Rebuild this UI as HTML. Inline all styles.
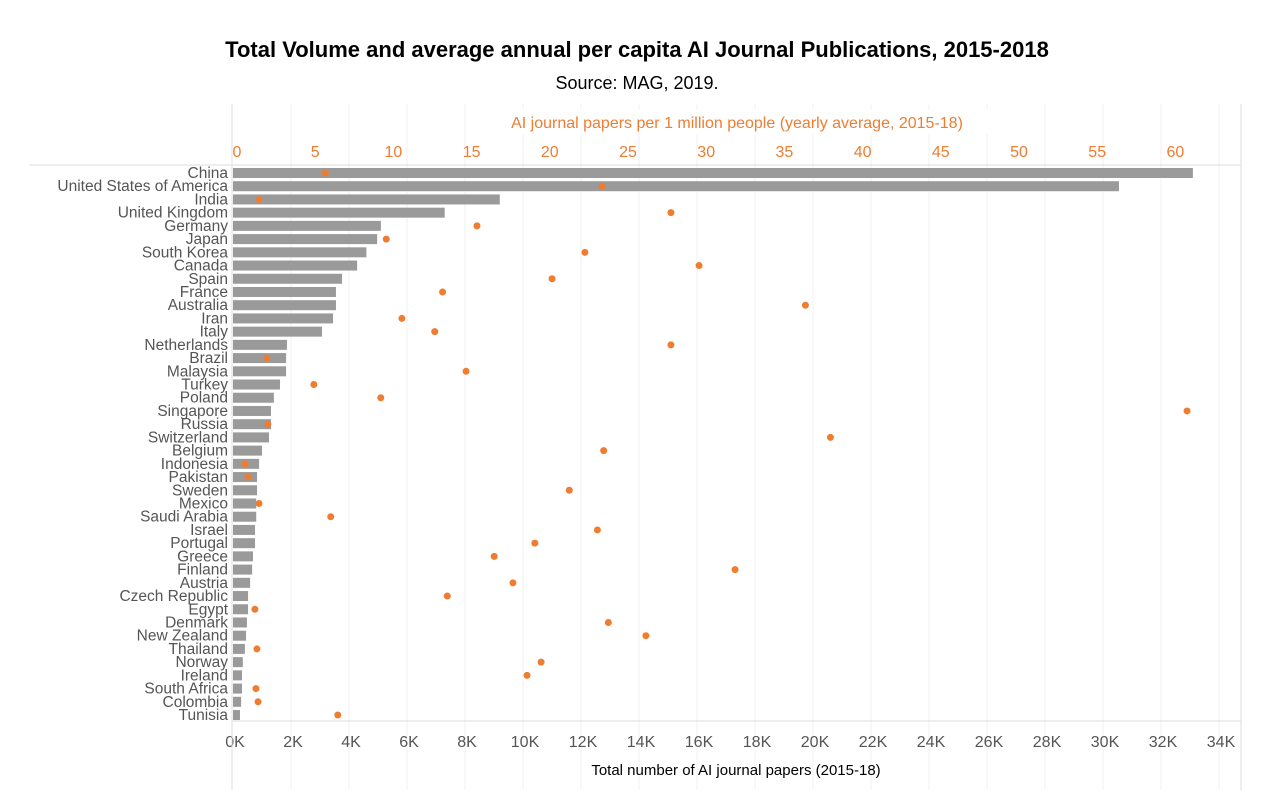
<!DOCTYPE html>
<html><head><meta charset="utf-8">
<style>
html,body{margin:0;padding:0;background:#fff;}
svg{display:block;font-family:"Liberation Sans",sans-serif;}
</style></head>
<body>
<svg id="chart" width="1280" height="801" viewBox="0 0 1280 801">
<g id="grid"></g>
<text x="637" y="57" text-anchor="middle" font-size="22" font-weight="bold" fill="#000">Total Volume and average annual per capita AI Journal Publications, 2015-2018</text>
<text x="637" y="89" text-anchor="middle" font-size="18" fill="#000">Source: MAG, 2019.</text>
<rect x="480" y="110" width="515" height="24" fill="#fff"/>
<text x="737" y="128" text-anchor="middle" font-size="16" fill="#ee7d31">AI journal papers per 1 million people (yearly average, 2015-18)</text>
<text x="736" y="775" text-anchor="middle" font-size="15" fill="#000">Total number of AI journal papers (2015-18)</text>
<g id="ticks"></g>
<line x1="30" y1="165" x2="1241" y2="165" stroke="#ddd"/>
<line x1="232" y1="721" x2="1241" y2="721" stroke="#ddd"/>
<line x1="232" y1="104" x2="232" y2="790" stroke="#ddd"/>
<line x1="1241" y1="104" x2="1241" y2="790" stroke="#ddd"/>
<g id="marks"></g>
</svg>
<script>
const countries=["China","United States of America","India","United Kingdom","Germany","Japan","South Korea","Canada","Spain","France","Australia","Iran","Italy","Netherlands","Brazil","Malaysia","Turkey","Poland","Singapore","Russia","Switzerland","Belgium","Indonesia","Pakistan","Sweden","Mexico","Saudi Arabia","Israel","Portugal","Greece","Finland","Austria","Czech Republic","Egypt","Denmark","New Zealand","Thailand","Norway","Ireland","South Africa","Colombia","Tunisia"];
const totalK=[33.1,30.55,9.2,7.3,5.1,4.97,4.6,4.28,3.76,3.55,3.55,3.45,3.07,1.86,1.83,1.83,1.62,1.41,1.31,1.31,1.24,1.0,0.9,0.83,0.83,0.8,0.8,0.76,0.76,0.69,0.66,0.59,0.52,0.52,0.48,0.45,0.41,0.34,0.31,0.31,0.28,0.24];
const perCapita=[5.9,23.6,1.66,28.0,15.6,9.8,22.5,29.8,20.4,13.4,36.6,10.8,12.9,28.0,2.17,14.9,5.17,9.45,61.0,2.23,38.2,23.7,0.77,0.96,21.5,1.66,6.25,23.3,19.3,16.7,32.1,17.9,13.7,1.4,24.0,26.4,1.53,19.7,18.8,1.47,1.6,6.7];
const bottomTicks=[0,2,4,6,8,10,12,14,16,18,20,22,24,26,28,30,32,34];
const topTicks=[0,5,10,15,20,25,30,35,40,45,50,55,60];

const NS="http://www.w3.org/2000/svg";
const x0=233;
const xBottom=v=>x0+v*29;
const xTop=v=>x0+v*15.64;
const yRow=i=>173+i*13.22;
function mk(tag,attrs,parent){const e=document.createElementNS(NS,tag);for(const k in attrs)e.setAttribute(k,attrs[k]);parent.appendChild(e);return e;}
const grid=document.getElementById('grid');
const ticks=document.getElementById('ticks');
const marks=document.getElementById('marks');
bottomTicks.forEach(t=>{
  const x=xBottom(t);
  if(t>0){const g=mk('line',{x1:x,y1:104,x2:x,y2:790,stroke:'#f2f2f2'},grid);
  
  }
  const l=mk('text',{x:x+2,y:747,'text-anchor':'middle','font-size':16,fill:'#555'},ticks);
  l.textContent=t+'K';
  
  
});
topTicks.forEach(t=>{
  const l=mk('text',{x:xTop(t)+4,y:157,'text-anchor':'middle','font-size':16,fill:'#ee7d31'},ticks);
  l.textContent=t;
  
  
});
countries.forEach((c,i)=>{
  const y=yRow(i);
  const l=mk('text',{x:228,y:y+5,'text-anchor':'end','font-size':15.5,fill:'#555'},marks);
  l.textContent=c;
  
  
  const b=mk('rect',{x:x0,y:y-5,width:xBottom(totalK[i])-x0,height:10,fill:'#9a9a9a'},marks);
  
  
});
countries.forEach((c,i)=>{
  const d=mk('circle',{cx:xTop(perCapita[i]),cy:yRow(i),r:3.5,fill:'#ee7d31'},marks);
  
  
});
</script>
</body></html>
